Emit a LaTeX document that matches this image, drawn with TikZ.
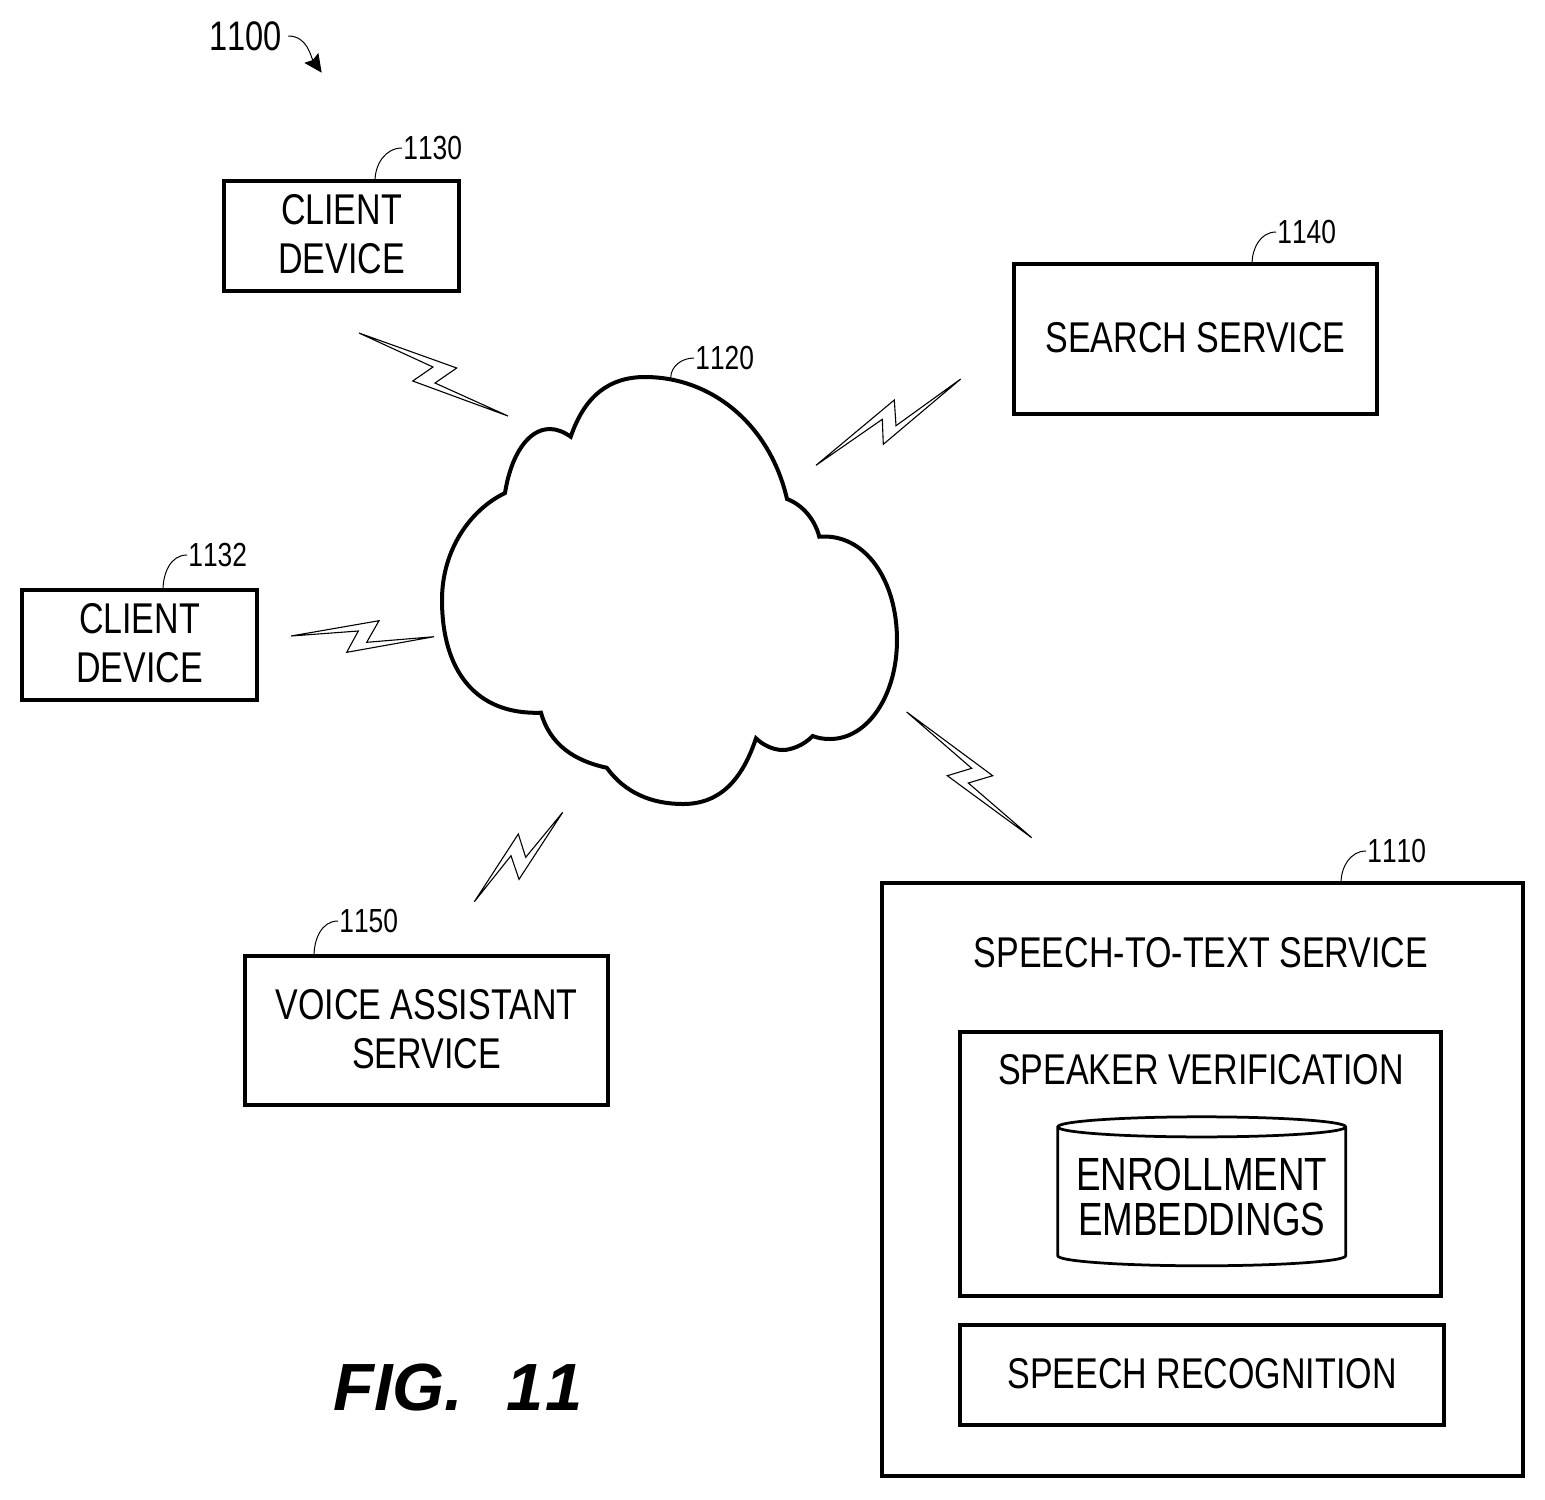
\documentclass[tikz,border=0pt]{standalone}
\usepackage{fontspec}
\setmainfont[FakeStretch=0.79]{Liberation Sans}
\newfontfamily\figfont[Kerning=Off]{Liberation Sans}
\newfontfamily\numfont[FakeStretch=0.79,Kerning=Off]{Liberation Sans}
\usepackage{tikz}
\usetikzlibrary{arrows.meta,shapes.geometric}
\tikzset{
	blockbox/.style={draw,line width=0.08cm,inner sep=0pt,text depth=0.08cm,align=center,font=\fontsize{24.5}{27.9}\selectfont},
	plaintext/.style={inner sep=0pt,align=center,font=\fontsize{24.5}{27.9}\selectfont},
	reflabel/.style={inner sep=0pt,anchor=west,font=\fontsize{19}{22}\selectfont\numfont},
	leader/.style={line width=0.02cm},
	bolt/.style={line width=0.022cm,line join=miter,miter limit=5},
	dbcyl/.style={draw,line width=0.055cm,shape=cylinder,shape border rotate=90,aspect=0.08,inner sep=0pt,align=center,
		font=\fontsize{26.5}{25.2}\selectfont},
}
\begin{document}
\begin{tikzpicture}[x=0.02cm,y=-0.02cm]
	\useasboundingbox (0,0) rectangle (1545,1499);
	% boxes
	\node[blockbox,minimum width=4.7cm,minimum height=2.2cm] (client1) at (341.5,236) {CLIENT\\DEVICE};
	\node[blockbox,minimum width=4.7cm,minimum height=2.2cm] (client2) at (139.5,645) {CLIENT\\DEVICE};
	\node[blockbox,minimum width=7.26cm,minimum height=3cm] (search) at (1195.5,339) {SEARCH SERVICE};
	\node[blockbox,minimum width=7.26cm,minimum height=2.98cm] (voice) at (426.5,1030.5) {VOICE ASSISTANT\\SERVICE};
	\node[blockbox,minimum width=12.82cm,minimum height=11.86cm] (stt) at (1202.5,1179.5) {};
	\node[plaintext] (stttext) at (1201,953) {SPEECH-TO-TEXT SERVICE};
	\node[blockbox,minimum width=9.62cm,minimum height=5.28cm] (verify) at (1200.5,1164) {};
	\node[plaintext] (verifytext) at (1201,1070) {SPEAKER VERIFICATION};
	\node[dbcyl,minimum width=5.76cm,minimum height=2.98cm] (enroll) at (1201.7,1197) {ENROLLMENT\\EMBEDDINGS};
	\node[blockbox,minimum width=9.68cm,minimum height=2cm] (recog) at (1202,1375) {SPEECH RECOGNITION};
	% cloud
	\draw[line width=0.08cm,line join=miter] (505,493) .. controls (511,455) and (528,429) .. (550,429)
		.. controls (557,429) and (564,432) .. (570.7,436.7)
		.. controls (585,395) and (610,377) .. (645,377)
		.. controls (712,377) and (770,425) .. (787,499)
		.. controls (803,505) and (815,520) .. (819.3,536.7)
		.. controls (865,533) and (897,580) .. (897,640)
		.. controls (897,695) and (868,739) .. (830,739)
		.. controls (823,739) and (818,738) .. (812.7,736)
		.. controls (803,746) and (790,750) .. (783,750)
		.. controls (773,750) and (763,745) .. (756,738.3)
		.. controls (742,780) and (720,804) .. (683,804)
		.. controls (652,804) and (625,793) .. (606.7,767.7)
		.. controls (575,761) and (550,745) .. (541,712.7)
		.. controls (475,715) and (442,670) .. (442,600)
		.. controls (442,550) and (470,510) .. cycle;
	% lightning
	\draw[bolt] (359,333)--(456.7,368)--(435,383)--(508,416)--(412.7,381)--(433,367)--cycle;
	\draw[bolt] (960.7,379)--(896,425.7)--(894.3,400)--(816,465.3)--(882.3,419.3)--(883.3,444.3)--cycle;
	\draw[bolt] (906.7,712)--(992.7,775.7)--(968.3,783)--(1031.7,837.7)--(947.3,775.7)--(971.7,768.3)--cycle;
	\draw[bolt] (291,636)--(379,620.7)--(366.7,642.3)--(434,636.7)--(346.7,652.3)--(358.3,631)--cycle;
	\draw[bolt] (562.7,812.3)--(525.7,857.3)--(518.3,834)--(474.3,901.7)--(511,855.7)--(519,879.3)--cycle;
	% numbers
	\node[reflabel,font=\fontsize{23.5}{26}\selectfont\numfont] (n1100) at (209,36) {1100};
	\node[reflabel] (n1130) at (403,148) {1130};
	\node[reflabel] (n1140) at (1277,232) {1140};
	\node[reflabel] (n1120) at (695,358) {1120};
	\node[reflabel] (n1132) at (188,555) {1132};
	\node[reflabel] (n1150) at (339,921) {1150};
	\node[reflabel] (n1110) at (1367,851) {1110};
	\coordinate (t1130) at (375,181);
	\coordinate (t1140) at (1252,264);
	\coordinate (t1120) at (670.7,378);
	\coordinate (t1132) at (163,590);
	\coordinate (t1150) at (314,956);
	\coordinate (t1110) at (1341,883);
	\coordinate (t1100) at (321.7,72.7);
	\foreach \x in {1130,1140,1120,1132,1150,1110}
	\draw[leader] (t\x) to[out=90,in=180] ([xshift=-0.02cm]n\x.west);
	\draw[leader,-{Stealth[length=0.36cm,width=0.34cm,inset=0.05cm]}] ([xshift=0.12cm]n1100.east) to[out=0,in=125] (t1100);
	\node[inner sep=0pt,anchor=west,font=\fontsize{38}{40}\selectfont\figfont\bfseries\itshape] (figlabel) at (333,1387) {FIG.\ \ \kern3.4pt 1\kern1.1pt 1};
\end{tikzpicture}
\end{document}
